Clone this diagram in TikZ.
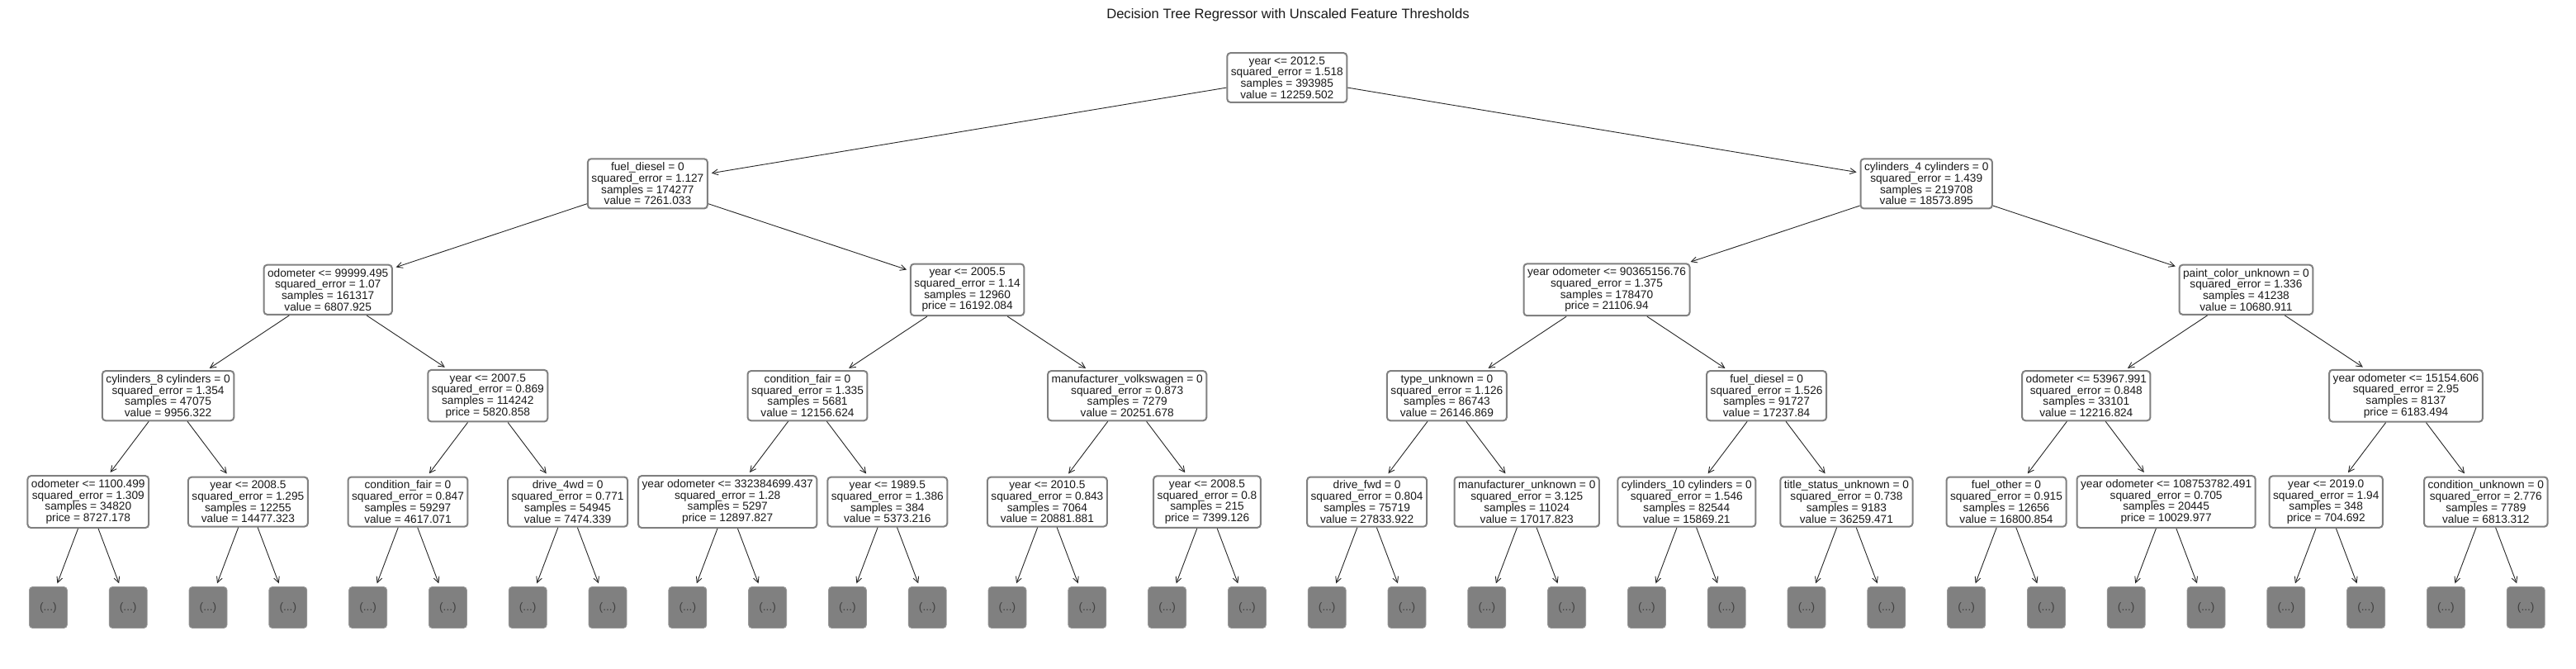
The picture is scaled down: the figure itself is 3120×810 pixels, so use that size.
\documentclass[tikz,border=0pt]{standalone}
\usepackage{fontspec}
\setmainfont{Liberation Sans}
\usetikzlibrary{arrows.meta}

\begin{document}
\begin{tikzpicture}[x = 1pt, y = -1pt]
\tikzstyle{SplitStyle}=[shape = rectangle,
                        rounded corners = 4pt,
                        draw = black!50,
                        line width = 2pt,
                        fill = white,
                        text = black!90,
                        align = center,
                        inner xsep = 4.5pt,
                        inner ysep = 4.5pt,
                        font = \fontsize{13.7}{13.7}\selectfont]
\tikzstyle{LeafStyle}=[shape = rectangle,
                       rounded corners = 4pt,
                       draw = black!40,
                       line width = 0.8pt,
                       fill = black!50,
                       text = black!75,
                       minimum width = 46pt,
                       minimum height = 50pt,
                       inner sep = 0pt,
                       font = \fontsize{13.7}{13.7}\selectfont]
\tikzstyle{post}=[draw = black!85,
                  line width = 0.9pt,
                  -{Straight Barb[length = 7pt, width = 7pt]},
                  shorten > = 4pt]
\useasboundingbox (0, 0) rectangle (3120, 810);
\node[anchor = base, text = black!90, font = \fontsize{16.6}{19}\selectfont] (title) at (1560, 22.7) {Decision Tree Regressor with Unscaled Feature Thresholds};
% depth 0 and 1
\node[SplitStyle] (v1) at (1558.8, 94) {year <= 2012.5\\squared\_error = 1.518\\samples = 393985\\value = 12259.502};
\node[SplitStyle] (v2) at (784.4, 222.4) {fuel\_diesel = 0\\squared\_error = 1.127\\samples = 174277\\value = 7261.033};
\node[SplitStyle] (v3) at (2333.2, 222.4) {cylinders\_4 cylinders = 0\\squared\_error = 1.439\\samples = 219708\\value = 18573.895};
% depth 2
\node[SplitStyle] (v4) at (397.2, 350.8) {odometer <= 99999.495\\squared\_error = 1.07\\samples = 161317\\value = 6807.925};
\node[SplitStyle] (v5) at (1171.6, 350.8) {year <= 2005.5\\squared\_error = 1.14\\samples = 12960\\price = 16192.084};
\node[SplitStyle] (v6) at (1946.0, 350.8) {year odometer <= 90365156.76\\squared\_error = 1.375\\samples = 178470\\price = 21106.94};
\node[SplitStyle] (v7) at (2720.4, 350.8) {paint\_color\_unknown = 0\\squared\_error = 1.336\\samples = 41238\\value = 10680.911};
% depth 3
\node[SplitStyle] (v8) at (203.6, 479.2) {cylinders\_8 cylinders = 0\\squared\_error = 1.354\\samples = 47075\\value = 9956.322};
\node[SplitStyle] (v9) at (590.8, 479.2) {year <= 2007.5\\squared\_error = 0.869\\samples = 114242\\price = 5820.858};
\node[SplitStyle] (v10) at (978.0, 479.2) {condition\_fair = 0\\squared\_error = 1.335\\samples = 5681\\value = 12156.624};
\node[SplitStyle] (v11) at (1365.2, 479.2) {manufacturer\_volkswagen = 0\\squared\_error = 0.873\\samples = 7279\\value = 20251.678};
\node[SplitStyle] (v12) at (1752.4, 479.2) {type\_unknown = 0\\squared\_error = 1.126\\samples = 86743\\value = 26146.869};
\node[SplitStyle] (v13) at (2139.6, 479.2) {fuel\_diesel = 0\\squared\_error = 1.526\\samples = 91727\\value = 17237.84};
\node[SplitStyle] (v14) at (2526.8, 479.2) {odometer <= 53967.991\\squared\_error = 0.848\\samples = 33101\\value = 12216.824};
\node[SplitStyle] (v15) at (2914.0, 479.2) {year odometer <= 15154.606\\squared\_error = 2.95\\samples = 8137\\price = 6183.494};
% depth 4
\node[SplitStyle] (v16) at (106.8, 607.6) {odometer <= 1100.499\\squared\_error = 1.309\\samples = 34820\\price = 8727.178};
\node[SplitStyle] (v17) at (300.4, 607.6) {year <= 2008.5\\squared\_error = 1.295\\samples = 12255\\value = 14477.323};
\node[SplitStyle] (v18) at (494.0, 607.6) {condition\_fair = 0\\squared\_error = 0.847\\samples = 59297\\value = 4617.071};
\node[SplitStyle] (v19) at (687.6, 607.6) {drive\_4wd = 0\\squared\_error = 0.771\\samples = 54945\\value = 7474.339};
\node[SplitStyle] (v20) at (881.2, 607.6) {year odometer <= 332384699.437\\squared\_error = 1.28\\samples = 5297\\price = 12897.827};
\node[SplitStyle] (v21) at (1074.8, 607.6) {year <= 1989.5\\squared\_error = 1.386\\samples = 384\\value = 5373.216};
\node[SplitStyle] (v22) at (1268.4, 607.6) {year <= 2010.5\\squared\_error = 0.843\\samples = 7064\\value = 20881.881};
\node[SplitStyle] (v23) at (1462.0, 607.6) {year <= 2008.5\\squared\_error = 0.8\\samples = 215\\price = 7399.126};
\node[SplitStyle] (v24) at (1655.6, 607.6) {drive\_fwd = 0\\squared\_error = 0.804\\samples = 75719\\value = 27833.922};
\node[SplitStyle] (v25) at (1849.2, 607.6) {manufacturer\_unknown = 0\\squared\_error = 3.125\\samples = 11024\\value = 17017.823};
\node[SplitStyle] (v26) at (2042.8, 607.6) {cylinders\_10 cylinders = 0\\squared\_error = 1.546\\samples = 82544\\value = 15869.21};
\node[SplitStyle] (v27) at (2236.4, 607.6) {title\_status\_unknown = 0\\squared\_error = 0.738\\samples = 9183\\value = 36259.471};
\node[SplitStyle] (v28) at (2430.0, 607.6) {fuel\_other = 0\\squared\_error = 0.915\\samples = 12656\\value = 16800.854};
\node[SplitStyle] (v29) at (2623.6, 607.6) {year odometer <= 108753782.491\\squared\_error = 0.705\\samples = 20445\\price = 10029.977};
\node[SplitStyle] (v30) at (2817.2, 607.6) {year <= 2019.0\\squared\_error = 1.94\\samples = 348\\price = 704.692};
\node[SplitStyle] (v31) at (3010.8, 607.6) {condition\_unknown = 0\\squared\_error = 2.776\\samples = 7789\\value = 6813.312};
% truncated subtrees
\foreach \i in {0,...,31}{
  \pgfmathtruncatemacro{\p}{16 + \i/2}
  \node[LeafStyle] (l\i) at ({58.4 + 96.8*\i}, 735.5) {(...)};
  \draw[post] (v\p) -- (l\i);
}
\foreach \c in {2,...,31}{
  \pgfmathtruncatemacro{\p}{\c/2}
  \draw[post] (v\p) -- (v\c);
}
\end{tikzpicture}
\end{document}
